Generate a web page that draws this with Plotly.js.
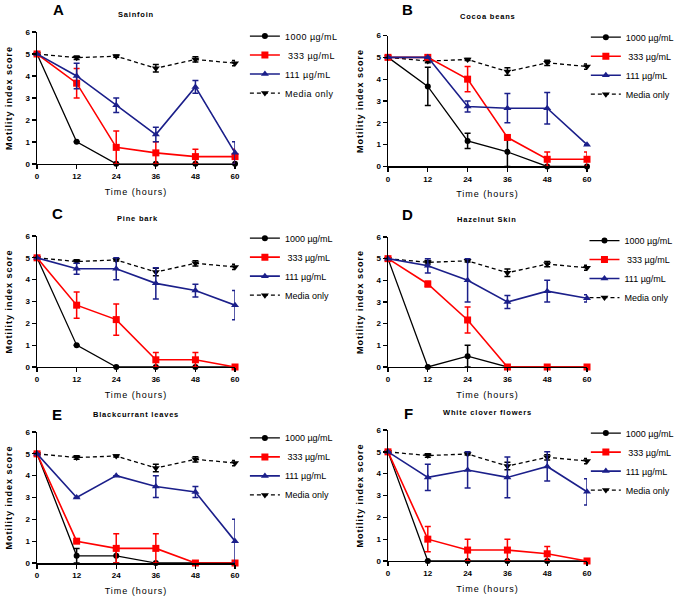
<!DOCTYPE html>
<html><head><meta charset="utf-8">
<script src="https://cdn.plot.ly/plotly-3.0.1.min.js"></script>
<style>body{margin:0;background:#fff} .legendtext{letter-spacing:0.5px} text[class*="title"]{letter-spacing:1px} .xtitle,.x2title,.x3title,.x4title,.x5title,.x6title{font-weight:400 !important;letter-spacing:1.1px} .annotation-text{letter-spacing:0.8px}</style>
</head><body><div id="chart" style="width:686px;height:598px"></div>
<script>
const timeHours = [0, 12, 24, 36, 48, 60];
const xTickLabels = ['0', '12', '24', '36', '48', '60'];
const seriesNames = ['1000 µg/mL', ' 333 µg/mL', '111 µg/mL', 'Media only'];
const panelLetters = ['A', 'B', 'C', 'D', 'E', 'F'];
const panelTitles = ['Sainfoin', 'Cocoa beans', 'Pine bark', 'Hazelnut Skin', 'Blackcurrant leaves', 'White clover flowers'];

const mediaOnly    = [5, 4.83, 4.9, 4.35, 4.75, 4.58];
const mediaOnlyErr = [0, 0.08, 0.05, 0.17, 0.12, 0.12];

// A Sainfoin
const sainfoin1000 = [5, 1, 0, 0, 0, 0];
const sainfoin1000Err = [0, 0, 0, 0, 0, 0];
const sainfoin333 = [5, 3.67, 0.75, 0.5, 0.33, 0.33];
const sainfoin333Err = [0, 0.67, 0.75, 0.5, 0.33, 0.33];
const sainfoin111 = [5, 4.0, 2.67, 1.33, 3.5, 0.5];
const sainfoin111Err = [0, 0.58, 0.33, 0.33, 0.29, 0.5];
// B Cocoa beans
const cocoa1000 = [5, 3.67, 1.17, 0.67, 0, 0];
const cocoa1000Err = [0, 0.88, 0.35, 0.67, 0, 0];
const cocoa333 = [5, 5, 4.0, 1.33, 0.33, 0.33];
const cocoa333Err = [0, 0, 0.58, 0.1, 0.33, 0.33];
const cocoa111 = [5, 5, 2.75, 2.67, 2.67, 1.0];
const cocoa111Err = [0, 0, 0.25, 0.67, 0.72, 0];
// C Pine bark
const pine1000 = [5, 1, 0, 0, 0, 0];
const pine1000Err = [0, 0, 0, 0, 0, 0];
const pine333 = [5, 2.83, 2.17, 0.33, 0.33, 0];
const pine333Err = [0, 0.6, 0.72, 0.33, 0.33, 0];
const pine111 = [5, 4.5, 4.5, 3.83, 3.5, 2.83];
const pine111Err = [0, 0.25, 0.5, 0.72, 0.29, 0.67];
// D Hazelnut Skin
const hazel1000 = [5, 0, 0.5, 0, 0, 0];
const hazel1000Err = [0, 0, 0.5, 0, 0, 0];
const hazel333 = [5, 3.83, 2.17, 0, 0, 0];
const hazel333Err = [0, 0.13, 0.6, 0, 0, 0];
const hazel111 = [5, 4.67, 4.0, 3.0, 3.5, 3.17];
const hazel111Err = [0, 0.33, 1.0, 0.3, 0.5, 0.17];
// E Blackcurrant leaves
const black1000 = [5, 0.33, 0.33, 0, 0, 0];
const black1000Err = [0, 0.33, 0.33, 0, 0, 0];
const black333 = [5, 1.0, 0.67, 0.67, 0, 0];
const black333Err = [0, 0, 0.67, 0.67, 0, 0];
const black111 = [5, 3.0, 4.0, 3.5, 3.25, 1.0];
const black111Err = [0, 0, 0, 0.5, 0.25, 1.0];
// F White clover flowers
const clover1000 = [5, 0, 0, 0, 0, 0];
const clover1000Err = [0, 0, 0, 0, 0, 0];
const clover333 = [5, 1.0, 0.5, 0.5, 0.33, 0];
const clover333Err = [0, 0.58, 0.5, 0.5, 0.33, 0];
const clover111 = [5, 3.83, 4.17, 3.83, 4.33, 3.17];
const clover111Err = [0, 0.6, 0.83, 0.93, 0.67, 0.6];

const panels = [
  [[sainfoin1000, sainfoin1000Err], [sainfoin333, sainfoin333Err], [sainfoin111, sainfoin111Err]],
  [[cocoa1000, cocoa1000Err], [cocoa333, cocoa333Err], [cocoa111, cocoa111Err]],
  [[pine1000, pine1000Err], [pine333, pine333Err], [pine111, pine111Err]],
  [[hazel1000, hazel1000Err], [hazel333, hazel333Err], [hazel111, hazel111Err]],
  [[black1000, black1000Err], [black333, black333Err], [black111, black111Err]],
  [[clover1000, clover1000Err], [clover333, clover333Err], [clover111, clover111Err]]
];

const FONT = 'Liberation Sans, Arial, sans-serif';
const colors = ['#000000', '#ff0000', '#1b1f8a', '#000000'];
const symbols = ['circle', 'square', 'triangle-up', 'triangle-down'];
const msize = [6, 7, 7, 7];
const lwidth = [1.3, 1.6, 1.6, 1.3];

const xDom = [[0.054, 0.3426], [0.5656, 0.8557]];
const yDom = [[0.726, 0.9465], [0.7216, 0.9406], [0.3863, 0.6054], [0.3863, 0.6037], [0.0585, 0.2776], [0.0619, 0.2809]];
const legPos = [[0.357, 0.964], [0.854, 0.962], [0.357, 0.626], [0.852, 0.622], [0.357, 0.292], [0.854, 0.30]];
const letterPos = [[59, 10], [408, 10], [58, 213], [408, 214], [58, 414], [409, 413]];
const titlePos = [[136, 15], [487, 17], [137, 218], [487, 219], [136, 414], [487, 412]];

const traces = [];
const layout = {
  width: 686, height: 598,
  margin: {l: 0, r: 0, t: 0, b: 0},
  paper_bgcolor: '#fff', plot_bgcolor: '#fff',
  showlegend: true,
  font: {family: FONT, color: '#000'},
  annotations: []
};

panels.forEach((p, i) => {
  const ax = i === 0 ? '' : String(i + 1);
  const leg = i === 0 ? 'legend' : 'legend' + (i + 1);
  const series = [p[0], p[1], p[2], [mediaOnly, mediaOnlyErr]];
  [3, 0, 1, 2].forEach(k => {
    traces.push({
      type: 'scatter', mode: 'lines+markers',
      x: timeHours, y: series[k][0],
      name: seriesNames[k],
      legend: leg, legendrank: k,
      xaxis: 'x' + ax, yaxis: 'y' + ax,
      cliponaxis: false,
      line: {color: colors[k], width: lwidth[k], dash: k === 3 ? '4px,3px' : 'solid'},
      marker: {color: colors[k], symbol: symbols[k], size: msize[k]},
      error_y: {type: 'data', array: series[k][1], visible: true, color: colors[k], thickness: 1.5, width: 3}
    });
  });
  const col = i % 2;
  layout['xaxis' + ax] = {
    domain: xDom[col], anchor: 'y' + ax, range: [0, 60],
    tickvals: timeHours, ticktext: xTickLabels,
    ticks: 'outside', ticklen: 4, tickwidth: 1.3, tickcolor: '#000',
    showline: true, linecolor: '#000', linewidth: 1.5,
    showgrid: false, zeroline: false,
    tickfont: {size: 8, family: FONT, weight: 'bold'},
    title: {text: 'Time (hours)', font: {size: 9, family: FONT, weight: 'normal'}, standoff: 8}
  };
  layout['yaxis' + ax] = {
    domain: yDom[i], anchor: 'x' + ax, range: [0, 6], dtick: 1,
    ticks: 'outside', ticklen: 4, tickwidth: 1.3, tickcolor: '#000',
    showline: true, linecolor: '#000', linewidth: 1.5,
    showgrid: false, zeroline: false,
    tickfont: {size: 8, family: FONT, weight: 'bold'},
    title: {text: 'Motility index score', font: {size: 9, family: FONT, weight: 'bold'}, standoff: 11}
  };
  layout[leg] = {
    x: legPos[i][0], y: legPos[i][1], xanchor: 'left', yanchor: 'top',
    bgcolor: 'rgba(0,0,0,0)', borderwidth: 0,
    font: {size: 9, family: FONT}, itemwidth: 30, tracegroupgap: 0
  };
  layout.annotations.push({
    xref: 'paper', yref: 'paper', x: letterPos[i][0] / 686, y: 1 - letterPos[i][1] / 598,
    xanchor: 'center', yanchor: 'middle', showarrow: false,
    text: panelLetters[i], font: {size: 15, family: FONT, weight: 'bold'}
  });
  layout.annotations.push({
    xref: 'paper', yref: 'paper', x: titlePos[i][0] / 686, y: 1 - titlePos[i][1] / 598,
    xanchor: 'center', yanchor: 'middle', showarrow: false,
    text: panelTitles[i], font: {size: 7.5, family: FONT, weight: 'bold'}
  });
});

Plotly.newPlot('chart', traces, layout, {displayModeBar: false, staticPlot: true});
</script></body></html>
